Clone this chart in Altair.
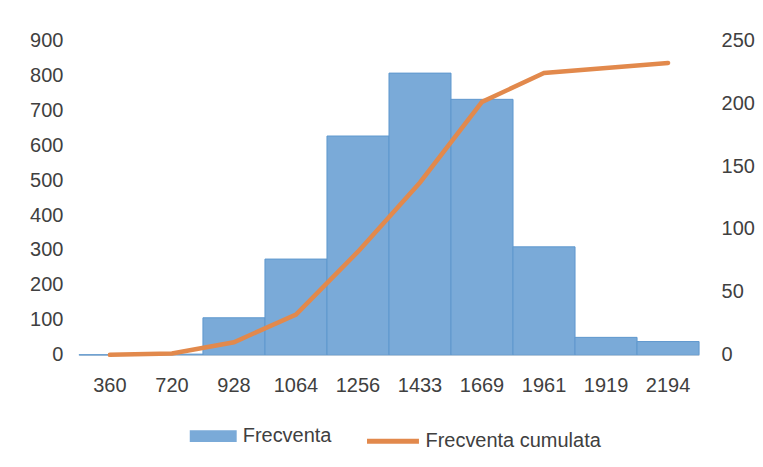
import altair as alt
import pandas as pd

categories = ["360", "720", "928", "1064", "1256", "1433", "1669", "1961", "1919", "2194"]
frecventa = [0, 2, 106, 274, 626, 806, 731, 309, 50, 38]
cumulata = [0, 1, 10, 32, 82, 137, 201, 224, 228, 232]

df = pd.DataFrame({
    "cat": categories,
    "f": frecventa,
    "c": cumulata,
    "s1": ["Frecventa"] * len(categories),
    "s2": ["Frecventa cumulata"] * len(categories),
})

FONT = "Liberation Sans"
TXT = "#404040"
BLUE = "#7AAAD8"
ORANGE = "#E2894C"

x_enc = alt.X(
    "cat:N",
    sort=categories,
    scale=alt.Scale(paddingInner=0, paddingOuter=0),
    axis=alt.Axis(title=None, labelAngle=0, ticks=False, domain=True, domainColor="#d9d9d9",
                  labelPadding=21, labelFont=FONT, labelFontSize=20, labelColor=TXT, grid=False),
)

bars = alt.Chart(df).mark_bar(stroke="#5E98CE", strokeWidth=1).encode(
    x=x_enc,
    y=alt.Y("f:Q", scale=alt.Scale(domain=[0, 900], nice=False),
            axis=alt.Axis(title=None, values=list(range(0, 901, 100)), orient="left", ticks=False,
                          domain=False, grid=False, labelPadding=16, labelFont=FONT,
                          labelFontSize=20, labelColor=TXT)),
    color=alt.Color("s1:N", scale=alt.Scale(domain=["Frecventa"], range=[BLUE]),
                    legend=alt.Legend(title=None, orient="none", legendX=111, legendY=373,
                                      symbolType="M-1,-0.25H1V0.25H-1Z", symbolSize=2209,
                                      symbolStrokeWidth=0, symbolOpacity=1,
                                      labelFont=FONT, labelFontSize=20, labelColor=TXT,
                                      labelOffset=6, labelLimit=400, padding=0)),
)

line = alt.Chart(df).mark_line(strokeWidth=4.5, strokeCap="round").encode(
    x=alt.X("cat:N", sort=categories),
    y=alt.Y("c:Q", scale=alt.Scale(domain=[0, 250], nice=False),
            axis=alt.Axis(title=None, values=list(range(0, 251, 50)), orient="right", ticks=False,
                          domain=False, grid=False, labelPadding=22, labelFont=FONT,
                          labelFontSize=20, labelColor=TXT)),
    color=alt.Color("s2:N", scale=alt.Scale(domain=["Frecventa cumulata"], range=[ORANGE]),
                    legend=alt.Legend(title=None, orient="none", legendX=286, legendY=373,
                                      symbolType="stroke", symbolSize=2704, symbolStrokeWidth=5,
                                      labelFont=FONT, labelFontSize=20, labelColor=TXT,
                                      labelOffset=4, labelLimit=400, padding=0)),
)

chart = alt.layer(bars, line).resolve_scale(y="independent", color="independent").resolve_legend(
    color="independent"
).properties(
    width=621,
    height=315,
    background="white",
    autosize=alt.AutoSizeParams(type="none"),
    padding={"left": 71, "top": 32, "right": 56, "bottom": 104},
).configure_view(stroke=None)

chart.save("out.html", embed_options={"renderer": "svg", "actions": False})
